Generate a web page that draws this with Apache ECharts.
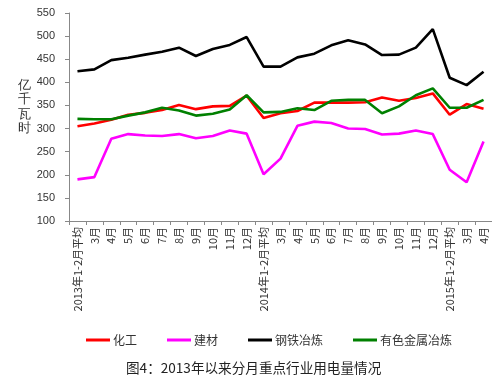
<!DOCTYPE html>
<html>
<head>
<meta charset="utf-8">
<script src="https://cdn.jsdelivr.net/npm/echarts@6/dist/echarts.min.js"></script>
<style>html,body{margin:0;padding:0;background:#fff}#c{width:492px;height:380px}</style>
</head>
<body>
<div id="c"></div>
<script>
var categories = ['2013年1-2月平均','3月','4月','5月','6月','7月','8月','9月','10月','11月','12月',
  '2014年1-2月平均','3月','4月','5月','6月','7月','8月','9月','10月','11月','12月',
  '2015年1-2月平均','3月','4月'];
var chemical = [305,311,319,330,334,340,351,342,348,349,371, 323,333,338,356,356,356,357,367,360,366,376, 330,353,343];
var building = [190,195,278,288,285,284,288,279,284,296,289, 201,235,306,315,312,300,299,287,289,296,288, 211,184,272];
var steel = [424,428,448,453,460,466,475,457,472,481,498, 434,434,454,462,480,491,482,459,460,475,515, 410,394,423];
var nonferrous = [321,320,320,328,335,345,339,328,332,341,372, 335,336,344,340,360,362,362,333,348,372,387, 345,345,362];
var seriesNames = ['化工','建材','钢铁冶炼','有色金属冶炼'];
var seriesColors = ['#ff0000','#ff00ff','#000000','#008000'];
var yTicks = {min:100, max:550, interval:50};

var chart = echarts.init(document.getElementById('c'));
var datas = [chemical, building, steel, nonferrous];
var series = datas.map(function(d,i){
  return {name: seriesNames[i], type:'line', data:d, symbol:'none', smooth:false,
    lineStyle:{color:seriesColors[i], width:2.6}, itemStyle:{color:seriesColors[i]}};
});
chart.setOption({
  animation:false,
  grid:{left:69, right:-2, top:13, bottom:159, containLabel:false},
  xAxis:{type:'category', data:categories, boundaryGap:true,
    axisLine:{lineStyle:{color:'#888', width:1}},
    axisTick:{show:true, length:4, lineStyle:{color:'#888'}, alignWithLabel:false},
    axisLabel:{rotate:90, interval:0, margin:6, fontSize:11, color:'#333',
      fontFamily:'"Noto Sans CJK SC", sans-serif'},
    splitLine:{show:false}},
  yAxis:{type:'value', min:yTicks.min, max:yTicks.max, interval:yTicks.interval,
    axisLine:{show:true, lineStyle:{color:'#888', width:1}},
    axisTick:{show:true, length:4, lineStyle:{color:'#888'}},
    axisLabel:{fontSize:11, color:'#333', margin:14, fontFamily:'"Liberation Sans", Arial, sans-serif'},
    splitLine:{show:false}},
  legend:{left:81, top:329, itemWidth:24, itemHeight:3, itemGap:30, icon:'rect',
    textStyle:{fontSize:12, color:'#333', padding:[0,0,0,-2], fontFamily:'"Noto Sans CJK SC", sans-serif'},
    data:seriesNames},
  graphic:[
    {type:'text', left:18, top:78, style:{text:'亿\n千\n瓦\n时', fontSize:13, lineHeight:14.5,
      fill:'#333', font:'13px "Noto Sans CJK SC", sans-serif'}},
    {type:'text', left:126, top:361, style:{text:'图4：2013年以来分月重点行业用电量情况',
      fill:'#222', font:'13.6px "Noto Sans CJK SC", sans-serif'}}
  ],
  series: series
});
</script>
</body>
</html>
